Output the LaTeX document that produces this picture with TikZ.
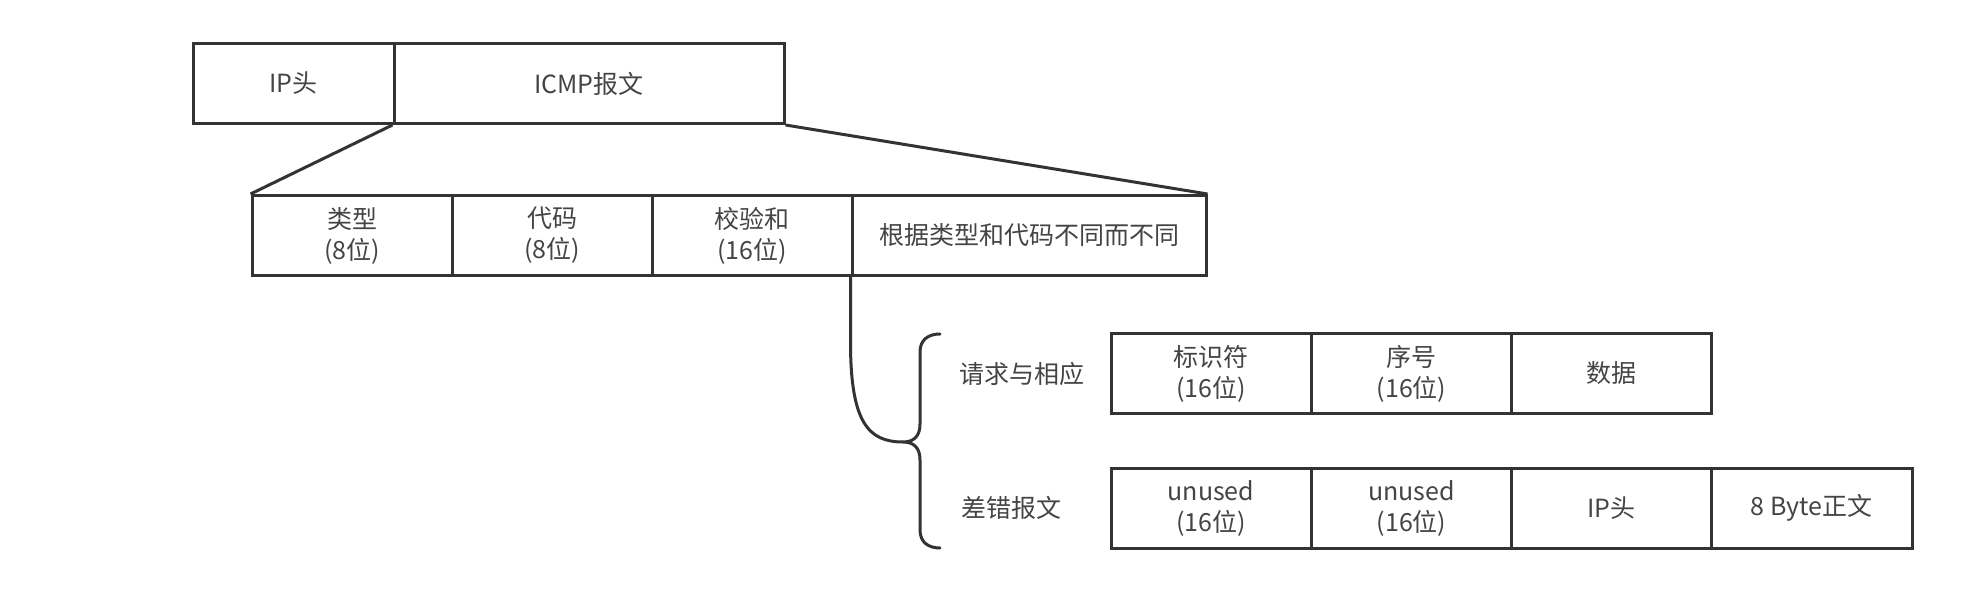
\documentclass[tikz,border=0pt]{standalone}
\usepackage{fontspec}
\setmainfont{Noto Sans CJK SC}
\definecolor{linegray}{HTML}{333333}
\definecolor{textgray}{HTML}{444444}
\tikzset{
  field/.style={draw=linegray, line width=1.5pt, minimum height=40pt, inner sep=0pt,
    align=center, text=textgray, font=\fontsize{12.5}{15.5}\selectfont},
  lbl/.style={inner sep=0pt, text=textgray, font=\fontsize{12.5}{15.5}\selectfont},
  conn/.style={draw=linegray, line width=1.5pt}
}
\begin{document}
\begin{tikzpicture}[x=0.5pt,y=-0.5pt]
\useasboundingbox (0,0) rectangle (1966,604);
% row 1
\node[field, minimum width=100.5pt] (ip) at (293.5,83.5) {IP头};
\node[field, minimum width=195pt] (icmp) at (589,83.5) {ICMP报文};
% row 2
\node[field, minimum width=100pt] (type) at (352,235.5) {类型\\(8位)};
\node[field, minimum width=100pt] (code) at (552,235.5) {代码\\(8位)};
\node[field, minimum width=100pt] (sum) at (752,235.5) {校验和\\(16位)};
\node[field, minimum width=177pt] (var) at (1029,235.5) {根据类型和代码不同而不同};
% row 3
\node[field, minimum width=100pt] (id) at (1211,373.5) {标识符\\(16位)};
\node[field, minimum width=100pt] (seq) at (1411.5,373.5) {序号\\(16位)};
\node[field, minimum width=100pt] (data) at (1611.5,373.5) {数据};
% row 4
\node[field, minimum width=100pt] (un1) at (1211,508) {unused\\(16位)};
\node[field, minimum width=100pt] (un2) at (1411.5,508) {unused\\(16位)};
\node[field, minimum width=100pt] (iph) at (1611.5,508) {IP头};
\node[field, minimum width=100.5pt] (body) at (1811.5,508) {8 Byte正文};
% labels
\node[lbl] (req) at (1022,374) {请求与相应};
\node[lbl] (err) at (1011,508) {差错报文};
% expansion lines
\draw[conn] (icmp.south west) -- (type.north west);
\draw[conn] (icmp.south east) -- (var.north east);
% brace
\coordinate (cusp) at (903,442);
\coordinate (btop) at (940,334);
\coordinate (bbot) at (940,548);
\draw[conn] (var.south west) -- ++(0,65) .. controls +(0,80) and (868,442) .. (cusp);
\draw[conn, line cap=round] (btop) .. controls (928,334) and (920,340) .. (920,352) -- (920,424)
  .. controls (920,435) and (915,442) .. (cusp)
  .. controls (915,442) and (920,449) .. (920,460) -- (920,530)
  .. controls (920,542) and (928,548) .. (bbot);
\end{tikzpicture}
\end{document}
